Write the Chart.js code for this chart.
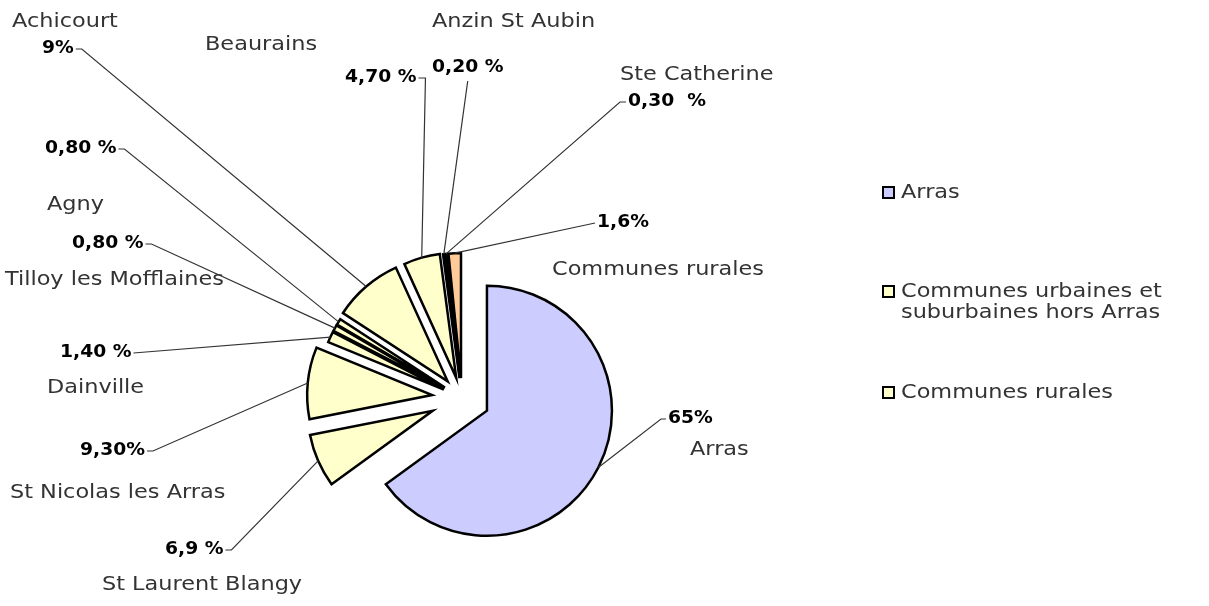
<!DOCTYPE html>
<html>
<head>
<meta charset="utf-8">
<title>Répartition par commune</title>
<script src="https://cdn.jsdelivr.net/npm/chart.js@4.4.1/dist/chart.umd.min.js"></script>
<style>
    html, body { margin: 0; padding: 0; background: #fff; }
    #wrap { width: 1209px; height: 606px; }
</style>
</head>
<body>
<div id="wrap"><canvas id="myChart"></canvas></div>
<script>
// data (clockwise from 12 o'clock)
const communes = ['Arras', 'St Laurent Blangy', 'St Nicolas les Arras', 'Dainville', 'Tilloy les Mofflaines',
    'Agny', 'Achicourt', 'Beaurains', 'Anzin St Aubin', 'Ste Catherine', 'Communes rurales'];
const shares = [65, 6.9, 9.3, 1.4, 0.8, 0.8, 9, 4.7, 0.2, 0.3, 1.6];
const shareLabels = ['65%', '6,9 %', '9,30%', '1,40 %', '0,80 %', '0,80 %', '9%', '4,70 %', '0,20 %', '0,30  %', '1,6%'];
const legendLabels = [['Arras'], ['Communes urbaines et', 'suburbaines hors Arras'], ['Communes rurales']];

// styles
const lavender = '#ccccff';
const cream = '#ffffcc';
const peach = '#ffcc99';
const sliceColors = [lavender, cream, cream, cream, cream, cream, cream, cream, cream, cream, peach];
const legendColors = [lavender, cream, cream];
const explode = [28, 32, 30, 20, 20, 20, 22, 21, 20, 20, 20]; // px each slice is pulled out
const pieRadius = 125;

const nameFont = '20px "DejaVu Sans"';
const valueFont = 'bold 18px "DejaVu Sans"';
const nameStretch = 1.12;
const valueStretch = 1.04;

// where each label sits: name, value, and which side the leader leaves from
const labelPos = [
    { name: [690, 450], value: [668, 418], side: 'left', dash: 5 },
    { name: [102, 585], value: [165, 549], side: 'right', dash: 6 },
    { name: [10, 493], value: [80, 450], side: 'right', dash: 6 },
    { name: [47, 388], value: [60, 352], side: 'right', dash: 0 },
    { name: [5, 280], value: [72, 243], side: 'right', dash: 6 },
    { name: [47, 205], value: [45, 148], side: 'right', dash: 6 },
    { name: [12, 22], value: [42, 48], side: 'right', dash: 6 },
    { name: [205, 45], value: [345, 77], side: 'right', dash: 7 },
    { name: [432, 22], value: [432, 67], side: 'below', dash: 0 },
    { name: [620, 75], value: [628, 101], side: 'left', dash: 6 },
    { name: [552, 270], value: [597, 222], side: 'left', dash: 0 }
];

function stretchText(ctx, text, x, y, sx) {
    ctx.save();
    ctx.translate(x, y);
    ctx.scale(sx, 1);
    ctx.fillText(text, 0, 0);
    ctx.restore();
}

// exploded pie: let each arc draw itself, pushed out along its mid angle
const explodeSlices = {
    id: 'explodeSlices',
    beforeDatasetDraw(chart, args) {
        const ctx = chart.ctx;
        args.meta.data.forEach((arc, i) => {
            const mid = (arc.startAngle + arc.endAngle) / 2;
            ctx.save();
            ctx.translate(Math.cos(mid) * explode[i], Math.sin(mid) * explode[i]);
            arc.draw(ctx);
            ctx.restore();
        });
        return false;
    }
};

// data labels with leader lines
const pieLabels = {
    id: 'pieLabels',
    afterDatasetsDraw(chart) {
        const ctx = chart.ctx;
        const arcs = chart.getDatasetMeta(0).data;
        ctx.save();
        ctx.textAlign = 'left';
        ctx.textBaseline = 'middle';
        ctx.strokeStyle = '#333';
        ctx.lineWidth = 1.2;

        arcs.forEach((arc, i) => {
            const p = labelPos[i];
            const mid = (arc.startAngle + arc.endAngle) / 2;
            const tipX = arc.x + Math.cos(mid) * (explode[i] + arc.outerRadius);
            const tipY = arc.y + Math.sin(mid) * (explode[i] + arc.outerRadius);

            ctx.font = nameFont;
            ctx.fillStyle = '#333';
            stretchText(ctx, communes[i], p.name[0], p.name[1], nameStretch);

            ctx.font = valueFont;
            ctx.fillStyle = '#000';
            stretchText(ctx, shareLabels[i], p.value[0], p.value[1], valueStretch);
            const w = ctx.measureText(shareLabels[i]).width * valueStretch;

            let sx, sy, dx;
            if (p.side === 'right') {
                sx = p.value[0] + w + 2; sy = p.value[1] + 1; dx = p.dash;
            } else if (p.side === 'left') {
                sx = p.value[0] - 2; sy = p.value[1] + 1; dx = -p.dash;
            } else {
                sx = p.value[0] + w / 2; sy = p.value[1] + 14; dx = 0;
            }
            ctx.beginPath();
            ctx.moveTo(sx, sy);
            ctx.lineTo(sx + dx, sy);
            ctx.lineTo(tipX, tipY);
            ctx.stroke();
        });
        ctx.restore();
    }
};

// legend on the right
const sideLegend = {
    id: 'sideLegend',
    afterDraw(chart) {
        const ctx = chart.ctx;
        const rows = [193, 292, 393];
        ctx.save();
        ctx.textAlign = 'left';
        ctx.textBaseline = 'middle';
        ctx.font = nameFont;
        legendLabels.forEach((lines, i) => {
            const y = rows[i];
            ctx.fillStyle = legendColors[i];
            ctx.fillRect(883, y - 6, 11, 11);
            ctx.strokeStyle = '#000';
            ctx.lineWidth = 2;
            ctx.strokeRect(883, y - 6, 11, 11);
            ctx.fillStyle = '#333';
            lines.forEach((t, k) => stretchText(ctx, t, 901, y + k * 21, nameStretch));
        });
        ctx.restore();
    }
};

const config = {
    type: 'pie',
    data: {
        labels: communes,
        datasets: [{
            data: shares,
            backgroundColor: sliceColors,
            borderColor: '#000',
            borderWidth: 2.5,
            borderJoinStyle: 'miter'
        }]
    },
    options: {
        responsive: true,
        maintainAspectRatio: false,
        animation: false,
        events: [],
        radius: pieRadius,
        layout: {
            padding: { left: 0, right: 285, top: 190, bottom: 0 }
        },
        plugins: {
            legend: { display: false },
            tooltip: { enabled: false }
        }
    },
    plugins: [explodeSlices, pieLabels, sideLegend]
};

const myChart = new Chart(document.getElementById('myChart'), config);
</script>
</body>
</html>
